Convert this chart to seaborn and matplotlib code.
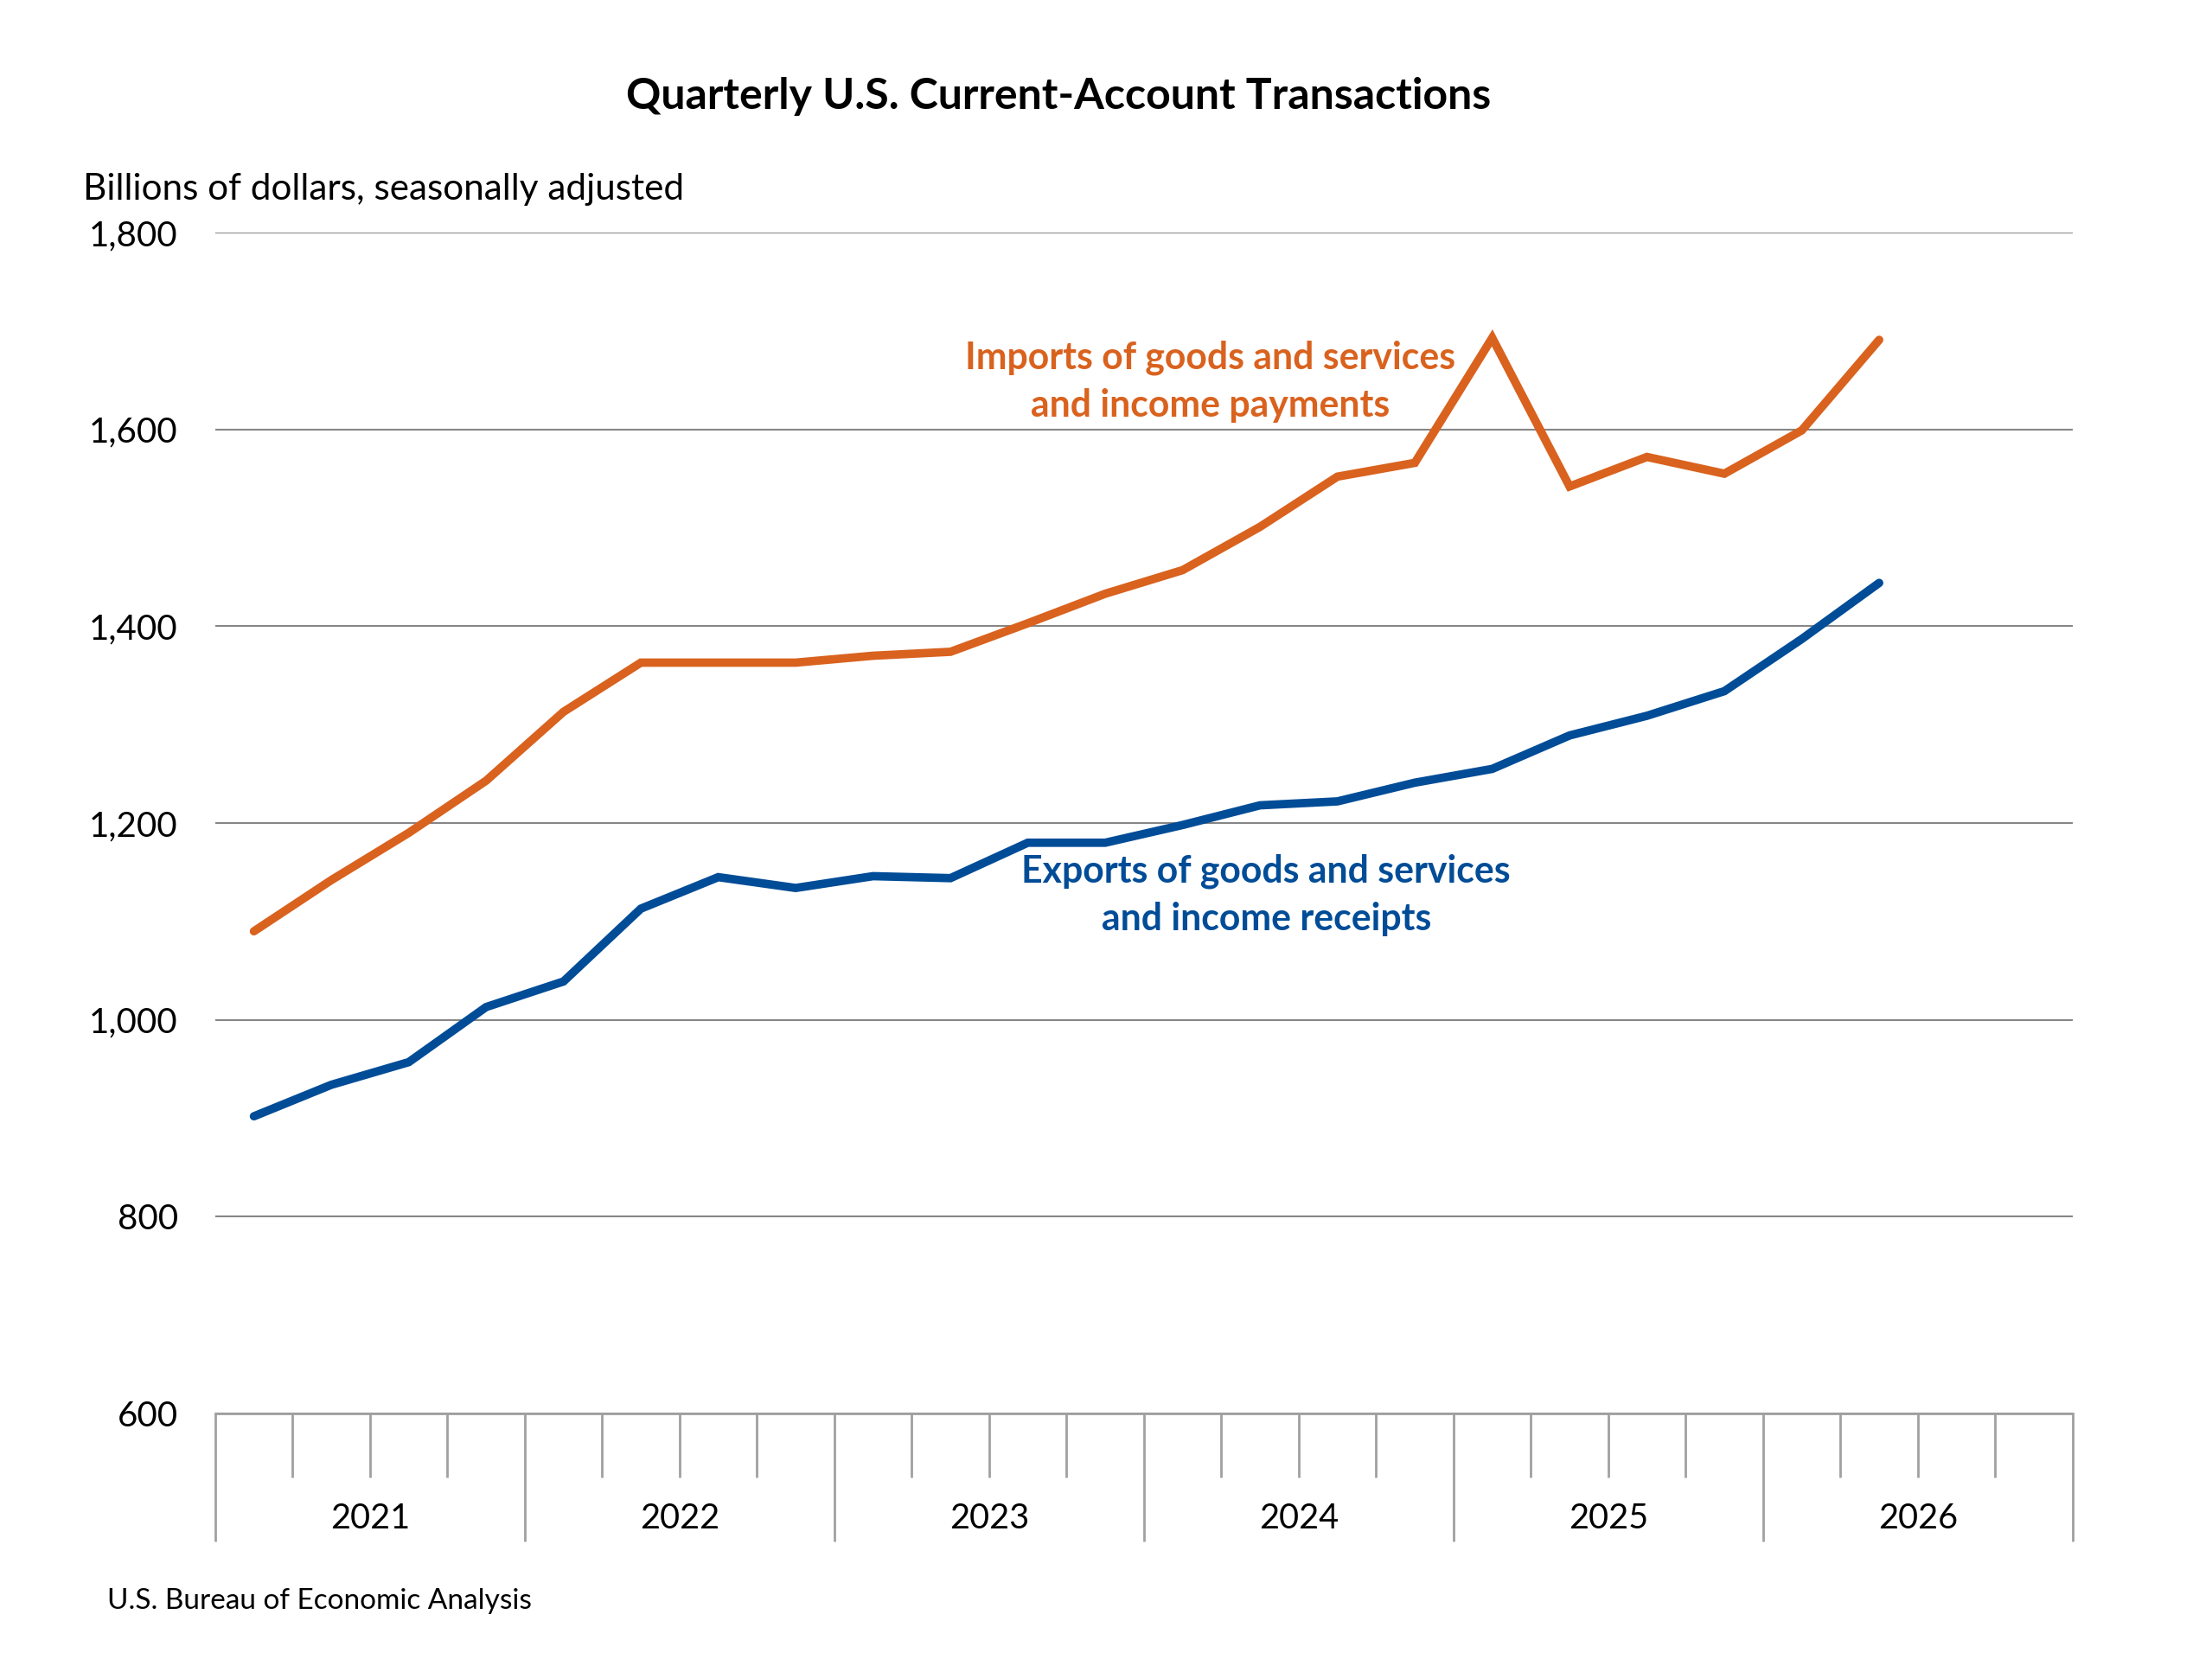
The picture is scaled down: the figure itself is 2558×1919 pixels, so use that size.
import matplotlib
matplotlib.use("Agg")
import matplotlib.pyplot as plt
import numpy as np
import pandas as pd
import seaborn as sns

# quarterly values, billions of dollars (2021 Q1 onwards)
imports_vals = [1090, 1142, 1190, 1243, 1313, 1363, 1363, 1363, 1370, 1374, 1403,
                1433, 1457, 1501, 1552, 1566, 1693, 1542, 1572, 1555, 1599, 1691]
exports_vals = [902, 934, 957, 1013, 1039, 1113, 1145, 1134, 1146, 1144, 1180,
                1180, 1198, 1218, 1222, 1241, 1255, 1289, 1309, 1334, 1387, 1444]
years = ['2021', '2022', '2023', '2024', '2025', '2026']
yticks = [600, 800, 1000, 1200, 1400, 1600, 1800]

ORANGE = '#D9621E'
BLUE = '#004C97'

sns.set_style('white')
plt.rcParams['font.family'] = ['Lato', 'DejaVu Sans']
plt.rcParams['text.color'] = 'black'
plt.rcParams['ytick.labelcolor'] = 'black'

df = pd.DataFrame({
    'q': np.arange(len(imports_vals)),
    'Imports': imports_vals,
    'Exports': exports_vals,
})

fig = plt.figure(figsize=(12.79, 9.595), dpi=200)
ax = fig.add_axes([0.0973, 0.148, 0.8397, 0.7118])

sns.lineplot(data=df, x='q', y='Imports', ax=ax, color=ORANGE, lw=3.5,
             solid_capstyle='round', solid_joinstyle='miter')
sns.lineplot(data=df, x='q', y='Exports', ax=ax, color=BLUE, lw=3.5,
             solid_capstyle='round', solid_joinstyle='miter')

ax.set_xlim(-0.5, 4 * len(years) - 0.5)
ax.set_ylim(600, 1800)
ax.set_yticks(yticks)
ax.set_yticklabels([f'{v:,}' for v in yticks], fontsize=14.5, color='black')
ax.set_xlabel('')
ax.set_ylabel('')

ax.grid(True, axis='y', color='#868686', lw=0.75)
ax.set_axisbelow(True)
for s in ['top', 'right', 'left']:
    ax.spines[s].set_visible(False)
ax.spines['bottom'].set_color('#a0a0a0')
ax.spines['bottom'].set_linewidth(1.0)

# category axis: quarter ticks and longer year ticks
ax.set_xticks(np.arange(-0.5, 4 * len(years), 4))
ax.set_xticks(np.arange(-0.5, 4 * len(years), 1), minor=True)
ax.set_xticklabels([])
ax.tick_params(axis='x', which='major', length=53.3, width=1.0, color='#a0a0a0', bottom=True)
ax.tick_params(axis='x', which='minor', length=26.6, width=1.0, color='#a0a0a0', bottom=True)
ax.tick_params(axis='y', length=0, pad=15.5)
for i, yr in enumerate(years):
    ax.text(4 * i + 1.5, -0.0886, yr, transform=ax.get_xaxis_transform(),
            ha='center', va='center', fontsize=14.3, color='black')

ax.text(12.36, 1649, 'Imports of goods and services\nand income payments', color=ORANGE,
        ha='center', va='center', fontsize=15.4, fontweight='bold', linespacing=1.45)
ax.text(13.08, 1127, 'Exports of goods and services\nand income receipts', color=BLUE,
        ha='center', va='center', fontsize=15.4, fontweight='bold', linespacing=1.45)

fig.text(0.4785, 1 - 111 / 1919, 'Quarterly U.S. Current-Account Transactions',
         ha='center', va='center', fontsize=18, fontweight='bold', color='black')
fig.text(96 / 2558, 1 - 219 / 1919, 'Billions of dollars, seasonally adjusted',
         ha='left', va='center', fontsize=15.2, color='black')
fig.text(124 / 2558, 1 - 1852 / 1919, 'U.S. Bureau of Economic Analysis',
         ha='left', va='center', fontsize=12, color='black')

fig.savefig('out.png', dpi=200, facecolor='white')
